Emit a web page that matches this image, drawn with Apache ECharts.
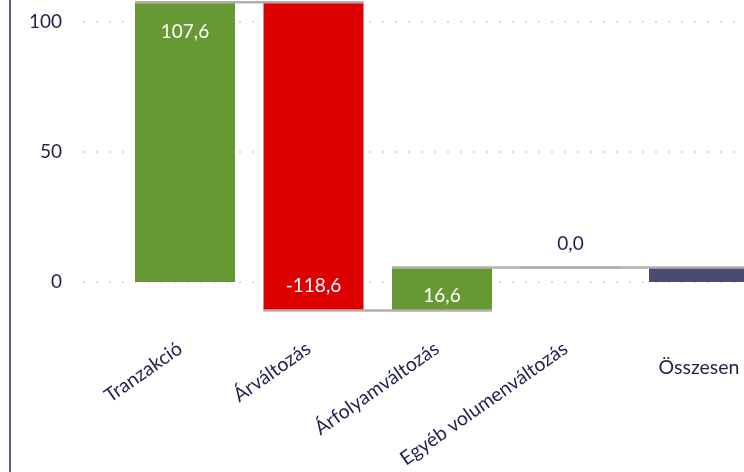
<!DOCTYPE html>
<html>
<head>
<meta charset="utf-8">
<script src="https://cdn.jsdelivr.net/npm/echarts@6/dist/echarts.min.js"></script>
<style>
  html, body { margin: 0; padding: 0; background: #fff; }
  #chart { width: 744px; height: 472px; }
</style>
</head>
<body>
<div id="chart"></div>
<script>
// values
const categories = ['Tranzakció', 'Árváltozás', 'Árfolyamváltozás', 'Egyéb volumenváltozás', 'Összesen'];
const changes = [107.6, -118.6, 16.6, 0.0, 5.6];
const totalFlags = [false, false, false, false, true];
const yTicks = [0, 50, 100];

const FONT = 'Lato';
const TEXT = '#1f214f';

// waterfall: invisible base + visible step
const base = [];
const heights = [];
const levels = []; // running total after each step, for the connectors
let run = 0;
changes.forEach((v, i) => {
  if (totalFlags[i]) {
    base.push(Math.min(0, v));
    heights.push(Math.abs(v));
  } else {
    base.push(Math.min(run, run + v));
    heights.push(Math.abs(v));
    run += v;
  }
  levels.push(totalFlags[i] ? v : run);
});

const fmt = v => v.toFixed(1).replace('.', ',');

// pixel mapping of the plot: 0 at y=282, 100 at y=22
const Y0 = 282, PX = 2.6, H = 472;
const yHi = Y0 / PX;
const yLo = (Y0 - H) / PX;

const labelSpots = [
  { position: 'insideTop', distance: 20, color: '#fff' },
  { position: 'insideBottom', distance: 15, color: '#fff' },
  { position: 'insideBottom', distance: 5, color: '#fff' },
  { position: 'top', distance: 14, color: TEXT },
  { show: false }
];

const colorFor = i => {
  if (totalFlags[i]) return '#494b70';
  if (changes[i] === 0) return '#9f9b97';
  return changes[i] > 0 ? '#669933' : '#dc0000';
};

const BAR_W = 100;

const chart = echarts.init(document.getElementById('chart'));
chart.setOption({
  animation: false,
  backgroundColor: '#fff',
  textStyle: { fontFamily: FONT },
  grid: [
    { left: 120.75, right: -19.25, top: 0, bottom: 0, outerBoundsMode: 'none', containLabel: false },
    { left: 83, right: 0, top: 22, bottom: 190, outerBoundsMode: 'none', containLabel: false }
  ],
  xAxis: [
    {
      gridIndex: 0, type: 'category', data: categories, position: 'bottom',
      offset: -135,
      axisLine: { show: false }, axisTick: { show: false },
      axisLabel: {
        interval: 0, rotate: 35, margin: 6, fontSize: 19.5, color: TEXT, fontFamily: FONT,
        padding: [0, 6, 0, 0],
        hideOverlap: false,
        formatter: (v, i) => totalFlags[i] ? '' : v
      }
    },
    {
      gridIndex: 0, type: 'category', data: categories, position: 'bottom',
      offset: -135,
      axisLine: { show: false }, axisTick: { show: false },
      axisLabel: {
        interval: 0, rotate: 0, margin: 21, fontSize: 19.5, color: TEXT, fontFamily: FONT,
        hideOverlap: false,
        formatter: (v, i) => totalFlags[i] ? v : ''
      }
    },
    { gridIndex: 1, type: 'value', show: false }
  ],
  yAxis: [
    {
      gridIndex: 0, type: 'value', min: yLo, max: yHi, position: 'left',
      offset: 110.75,
      axisLine: { show: true, lineStyle: { color: '#5f5f86', width: 2 } },
      axisTick: { show: false }, axisLabel: { show: false }, splitLine: { show: false }
    },
    {
      gridIndex: 1, type: 'value', min: yTicks[0], max: yTicks[yTicks.length - 1],
      interval: yTicks[1] - yTicks[0],
      axisLine: { show: false }, axisTick: { show: false },
      axisLabel: { margin: 21, fontSize: 19, color: TEXT, fontFamily: FONT },
      splitLine: { show: true, lineStyle: { color: '#d6d6ec', width: 2, type: [2, 11] } }
    }
  ],
  series: [
    {
      name: 'base', type: 'bar', xAxisIndex: 0, yAxisIndex: 0,
      stack: 'w', stackStrategy: 'all', barWidth: BAR_W, silent: true,
      itemStyle: { color: 'transparent' },
      data: base
    },
    {
      name: 'step', type: 'bar', xAxisIndex: 0, yAxisIndex: 0,
      stack: 'w', stackStrategy: 'all', barWidth: BAR_W,
      data: heights.map((h, i) => ({
        value: h,
        itemStyle: changes[i] === 0 && !totalFlags[i]
          ? { color: colorFor(i), borderColor: colorFor(i), borderWidth: 1 }
          : { color: colorFor(i) },
        label: Object.assign({ show: true, fontSize: 19, fontFamily: FONT }, labelSpots[i])
      })),
      label: { formatter: p => fmt(changes[p.dataIndex]) }
    },
    {
      name: 'connectors', type: 'custom', xAxisIndex: 0, yAxisIndex: 0,
      silent: true, z: 5,
      data: levels.slice(0, -1).map((lv, i) => [i, lv]),
      renderItem: (params, api) => {
        const i = api.value(0);
        const lv = api.value(1);
        const a = api.coord([i, lv]);
        const b = api.coord([i + 1, lv]);
        return {
          type: 'line',
          shape: { x1: a[0] - BAR_W / 2, y1: a[1], x2: b[0] + BAR_W / 2, y2: b[1] },
          style: { stroke: '#b3afab', lineWidth: 2.5 }
        };
      }
    }
  ]
});
</script>
</body>
</html>
